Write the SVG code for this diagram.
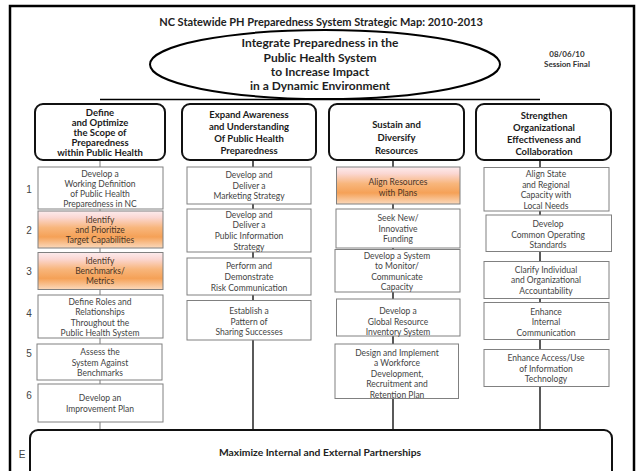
<svg xmlns="http://www.w3.org/2000/svg" width="639" height="471" viewBox="0 0 639 471">
  <defs>
    <linearGradient id="orange" x1="0" y1="0" x2="0" y2="1">
      <stop offset="0" stop-color="#fdecee"/>
      <stop offset="0.18" stop-color="#fbd7d2"/>
      <stop offset="0.45" stop-color="#f8b67c"/>
      <stop offset="0.7" stop-color="#f5a157"/>
      <stop offset="1" stop-color="#fbd9bc"/>
    </linearGradient>
    <style>
      .frame { fill: none; stroke: #000; stroke-width: 2.5; }
      .hdr { fill: #fff; stroke: #111; stroke-width: 2; }
      .box { fill: #fff; stroke: #808080; stroke-width: 1; }
      .hot { fill: url(#orange); stroke: #808080; stroke-width: 1; }
      .link { fill: none; stroke: #000; stroke-width: 1.3; }
      .link.soft { stroke: #9a9a9a; }
      text { font-family: Lato, "Open Sans", "Liberation Sans", sans-serif; text-anchor: middle; dominant-baseline: central; }
      .title { font-size: 11px; font-weight: bold; fill: #222; }
      .goal { font-size: 12px; font-weight: bold; fill: #1e1e1e; }
      .date { font-size: 8px; font-weight: bold; fill: #333; }
      .h { font-size: 9.5px; font-weight: bold; fill: #1a1a1a; }
      .s { font-size: 8.5px; fill: #444; }
      .s.dark { fill: #4a3526; }
      .num { font-family: "Liberation Sans", Arial, sans-serif; font-size: 10px; fill: #444; }
      .base { font-size: 10.3px; font-weight: bold; fill: #222; }
    </style>
  </defs>

  <rect width="639" height="471" fill="#fff"/>
  <!-- outer frame (runs past the lower edge) -->
  <rect class="frame" x="10" y="6" width="624" height="500"/>

  <text class="title" x="321" y="21">NC Statewide PH Preparedness System Strategic Map: 2010-2013</text>

  <!-- connectors -->
  <g id="connectors">
    <line class="link" x1="100" y1="99.5" x2="540" y2="99.5"/>
    <line class="link soft" x1="100" y1="160" x2="100" y2="430"/>
    <line class="link" x1="253" y1="160" x2="253" y2="430"/>
    <line class="link" x1="393" y1="160" x2="393" y2="430"/>
    <line class="link" x1="540" y1="160" x2="540" y2="430"/>
  </g>

  <!-- central goal -->
  <g id="goal">
    <ellipse cx="325" cy="64.5" rx="175" ry="34.5" fill="#fff" stroke="#000" stroke-width="2"/>
    <text class="goal" x="320" y="42">Integrate Preparedness in the</text>
    <text class="goal" x="320" y="57">Public Health System</text>
    <text class="goal" x="320" y="71">to Increase Impact</text>
    <text class="goal" x="320" y="85">in a Dynamic Environment</text>
  </g>

  <g id="session-date">
    <text class="date" x="567" y="54">08/06/10</text>
    <text class="date" x="567" y="64">Session Final</text>
  </g>

  <!-- strategic themes -->
  <g id="theme-scope">
    <rect class="hdr" x="35" y="104" width="130" height="56" rx="8"/>
    <text class="h" x="100" y="112">Define</text>
    <text class="h" x="100" y="122">and Optimize</text>
    <text class="h" x="100" y="132">the Scope of</text>
    <text class="h" x="100" y="142">Preparedness</text>
    <text class="h" x="100" y="152">within Public Health</text>
  </g>
  <g id="theme-awareness">
    <rect class="hdr" x="182" y="104" width="134" height="56" rx="8"/>
    <text class="h" x="249" y="114">Expand Awareness</text>
    <text class="h" x="249" y="126">and Understanding</text>
    <text class="h" x="249" y="138">Of Public Health</text>
    <text class="h" x="249" y="150">Preparedness</text>
  </g>
  <g id="theme-resources">
    <rect class="hdr" x="329" y="104" width="135" height="56" rx="8"/>
    <text class="h" x="396.5" y="124">Sustain and</text>
    <text class="h" x="396.5" y="137">Diversify</text>
    <text class="h" x="396.5" y="150">Resources</text>
  </g>
  <g id="theme-effectiveness">
    <rect class="hdr" x="476" y="104" width="135" height="56" rx="8"/>
    <text class="h" x="544" y="115">Strengthen</text>
    <text class="h" x="544" y="127">Organizational</text>
    <text class="h" x="544" y="139">Effectiveness and</text>
    <text class="h" x="544" y="151">Collaboration</text>
  </g>

  <!-- row numbers -->
  <g id="row-labels">
    <text class="num" x="29" y="189">1</text>
    <text class="num" x="29" y="230">2</text>
    <text class="num" x="29" y="271">3</text>
    <text class="num" x="29" y="313">4</text>
    <text class="num" x="29" y="353">5</text>
    <text class="num" x="29" y="395">6</text>
    <text class="num" x="22" y="454">E</text>
  </g>

  <!-- column 1 -->
  <g id="c1-definition">
    <rect class="box" x="38" y="167" width="125" height="42"/>
    <text class="s" x="100" y="173.5">Develop a</text>
    <text class="s" x="100" y="183.5">Working Definition</text>
    <text class="s" x="100" y="193.5">of Public Health</text>
    <text class="s" x="100" y="204">Preparedness in NC</text>
  </g>
  <g id="c1-capabilities">
    <rect class="hot" x="38" y="211" width="125" height="37"/>
    <text class="s dark" x="100" y="219.5">Identify</text>
    <text class="s dark" x="100" y="229.5">and Prioritize</text>
    <text class="s dark" x="100" y="240">Target Capabilities</text>
  </g>
  <g id="c1-benchmarks">
    <rect class="hot" x="38" y="252.5" width="125" height="37"/>
    <text class="s dark" x="100" y="261">Identify</text>
    <text class="s dark" x="100" y="271">Benchmarks/</text>
    <text class="s dark" x="100" y="281">Metrics</text>
  </g>
  <g id="c1-roles">
    <rect class="box" x="38" y="295" width="125" height="43"/>
    <text class="s" x="100" y="301.5">Define Roles and</text>
    <text class="s" x="100" y="311.5">Relationships</text>
    <text class="s" x="100" y="322.5">Throughout the</text>
    <text class="s" x="100" y="333">Public Health System</text>
  </g>
  <g id="c1-assess">
    <rect class="box" x="37" y="344" width="125" height="36"/>
    <text class="s" x="100" y="352">Assess the</text>
    <text class="s" x="100" y="362.5">System Against</text>
    <text class="s" x="100" y="373">Benchmarks</text>
  </g>
  <g id="c1-improvement">
    <rect class="box" x="38" y="384" width="125" height="38"/>
    <text class="s" x="100" y="397.5">Develop an</text>
    <text class="s" x="100" y="408.5">Improvement Plan</text>
  </g>

  <!-- column 2 -->
  <g id="c2-marketing">
    <rect class="box" x="187" y="167" width="124" height="37"/>
    <text class="s" x="249" y="175">Develop and</text>
    <text class="s" x="249" y="186">Deliver a</text>
    <text class="s" x="249" y="196">Marketing Strategy</text>
  </g>
  <g id="c2-public-info">
    <rect class="box" x="187" y="209" width="124" height="43"/>
    <text class="s" x="249" y="215">Develop and</text>
    <text class="s" x="249" y="225">Deliver a</text>
    <text class="s" x="249" y="236">Public Information</text>
    <text class="s" x="249" y="246.5">Strategy</text>
  </g>
  <g id="c2-risk">
    <rect class="box" x="187" y="258" width="124" height="37"/>
    <text class="s" x="249" y="266">Perform and</text>
    <text class="s" x="249" y="277">Demonstrate</text>
    <text class="s" x="249" y="287.5">Risk Communication</text>
  </g>
  <g id="c2-sharing">
    <rect class="box" x="187" y="300.5" width="124" height="39.5"/>
    <text class="s" x="249" y="311">Establish a</text>
    <text class="s" x="249" y="321.5">Pattern of</text>
    <text class="s" x="249" y="332">Sharing Successes</text>
  </g>

  <!-- column 3 -->
  <g id="c3-align">
    <rect class="hot" x="336.5" y="167" width="123.5" height="37"/>
    <text class="s dark" x="398" y="181.5">Align Resources</text>
    <text class="s dark" x="398" y="192.5">with Plans</text>
  </g>
  <g id="c3-funding">
    <rect class="box" x="336" y="209" width="124" height="39"/>
    <text class="s" x="398" y="217.5">Seek New/</text>
    <text class="s" x="398" y="228.5">Innovative</text>
    <text class="s" x="398" y="239">Funding</text>
  </g>
  <g id="c3-monitor">
    <rect class="box" x="335" y="249.5" width="125" height="42.5"/>
    <text class="s" x="397" y="255.5">Develop a System</text>
    <text class="s" x="397" y="266">to Monitor/</text>
    <text class="s" x="397" y="276.5">Communicate</text>
    <text class="s" x="397" y="287">Capacity</text>
  </g>
  <g id="c3-inventory">
    <rect class="box" x="336.5" y="299" width="123.5" height="37"/>
    <text class="s" x="398" y="310.5">Develop a</text>
    <text class="s" x="398" y="321.5">Global Resource</text>
    <text class="s" x="398" y="331.5">Inventory System</text>
  </g>
  <g id="c3-workforce">
    <rect class="box" x="335" y="344" width="123.5" height="54.5"/>
    <text class="s" x="397" y="352.5">Design and Implement</text>
    <text class="s" x="397" y="363">a Workforce</text>
    <text class="s" x="397" y="373.5">Development,</text>
    <text class="s" x="397" y="384">Recruitment and</text>
    <text class="s" x="397" y="394.5">Retention Plan</text>
  </g>

  <!-- column 4 -->
  <g id="c4-capacity">
    <rect class="box" x="484" y="167.5" width="125" height="43.5"/>
    <text class="s" x="546" y="173.5">Align State</text>
    <text class="s" x="546" y="184.5">and Regional</text>
    <text class="s" x="546" y="195">Capacity with</text>
    <text class="s" x="546" y="206">Local Needs</text>
  </g>
  <g id="c4-standards">
    <rect class="box" x="486" y="215" width="125.5" height="36.5"/>
    <text class="s" x="548" y="223.5">Develop</text>
    <text class="s" x="548" y="235">Common Operating</text>
    <text class="s" x="548" y="245">Standards</text>
  </g>
  <g id="c4-accountability">
    <rect class="box" x="484" y="261.5" width="125" height="37"/>
    <text class="s" x="546" y="269.5">Clarify Individual</text>
    <text class="s" x="546" y="280">and Organizational</text>
    <text class="s" x="546" y="290.5">Accountability</text>
  </g>
  <g id="c4-internal">
    <rect class="box" x="484" y="302.5" width="125" height="37"/>
    <text class="s" x="546" y="311.5">Enhance</text>
    <text class="s" x="546" y="321.5">Internal</text>
    <text class="s" x="546" y="332.5">Communication</text>
  </g>
  <g id="c4-technology">
    <rect class="box" x="484" y="349.5" width="125" height="37"/>
    <text class="s" x="546" y="357.5">Enhance Access/Use</text>
    <text class="s" x="546" y="368.5">of Information</text>
    <text class="s" x="546" y="378.5">Technology</text>
  </g>

  <!-- foundation -->
  <g id="partnerships">
    <rect class="hdr" x="30" y="430" width="582" height="70" rx="8"/>
    <text class="base" x="320" y="452">Maximize Internal and External Partnerships</text>
  </g>
</svg>
